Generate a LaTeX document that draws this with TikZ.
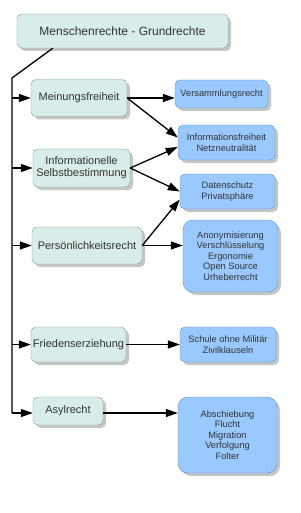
\documentclass[tikz,border=0pt]{standalone}
\usepackage{fontspec}
\setmainfont{Liberation Sans}
\usepackage{xcolor}
\usetikzlibrary{positioning,arrows.meta,shadows,calc}

\definecolor{rechtfill}{HTML}{D8ECE9}
\definecolor{rechtdraw}{HTML}{7F9E9A}
\definecolor{themafill}{HTML}{99C9FF}
\definecolor{themadraw}{HTML}{5F8FC8}
\definecolor{textgrau}{HTML}{333333}

\begin{document}
\begin{tikzpicture}[
    x=1pt, y=-1pt,
    font=\fontsize{11}{12}\selectfont, text=textgrau,
    recht/.style={draw=rechtdraw, fill=rechtfill, rounded corners=5pt, align=center,
                  inner sep=1pt, drop shadow={shadow xshift=3pt, shadow yshift=-3pt, fill=gray!90}},
    thema/.style={draw=themadraw, fill=themafill, rounded corners=5pt, align=center,
                  inner sep=1pt, font=\fontsize{9.3}{10.4}\selectfont,
                  drop shadow={shadow xshift=3pt, shadow yshift=-3pt, fill=gray!90}},
    arr/.style={-{Triangle[length=12pt, width=8pt]}, line width=1.3pt},
    trunk/.style={line width=1.3pt}
]
\useasboundingbox (0,0) rectangle (300,513);

% root
\node[recht, minimum width=211pt, minimum height=34pt, font=\fontsize{12}{14}\selectfont]
    (root) at (122.5,31) {Menschenrechte - Grundrechte};

% left column: rights
\node[recht, minimum width=96pt, minimum height=37pt] (mein) at (79,98) {Meinungsfreiheit};
\node[recht, minimum width=97pt, minimum height=38pt] (infos) at (81.5,168) {Informationelle\\Selbstbestimmung};
\node[recht, minimum width=110pt, minimum height=37pt] (pers) at (87,245.5) {Persönlichkeitsrecht};
\node[recht, minimum width=95pt, minimum height=35pt] (fried) at (78.5,344.5) {Friedenserziehung};
\node[recht, minimum width=70pt, minimum height=28pt] (asyl) at (68,411) {Asylrecht};

% right column: topics
\node[thema, minimum width=93pt, minimum height=28pt] (vers) at (221.5,94) {Versammlungsrecht};
\node[thema, minimum width=97pt, minimum height=35pt] (infof) at (226.5,142.5) {Informationsfreiheit\\Netzneutralität};
\node[thema, minimum width=95pt, minimum height=35pt] (daten) at (227.5,191.5) {Datenschutz\\Privatsphäre};
\node[thema, minimum width=95pt, minimum height=72pt, rounded corners=10pt] (anon) at (230.5,256)
    {Anonymisierung\\Verschlüsselung\\Ergonomie\\Open Source\\Urheberrecht};
\node[thema, minimum width=96pt, minimum height=35pt] (schule) at (228,344.5) {Schule ohne Militär\\Zivilklauseln};
\node[thema, minimum width=99pt, minimum height=76pt, rounded corners=10pt] (absch) at (227.5,435)
    {Abschiebung\\Flucht\\Migration\\Verfolgung\\Folter};

% trunk
\coordinate (knick) at (12,78);
\coordinate (ende) at (12,413);
\draw[trunk] ($(root.south west)+(36,0)$) -- (knick) -- (ende);

% branches
\draw[arr] (knick |- mein) -- (mein.west);
\draw[arr] (knick |- infos) -- (infos.west);
\draw[arr] (knick |- pers) -- (pers.west);
\draw[arr] (knick |- fried) -- (fried.west);
\draw[arr] (ende) -- (ende -| asyl.west);

% links
\draw[arr] (mein.east) -- (vers.west |- mein.east);
\draw[arr] (mein.east) -- ([yshift=5pt]infof.west);
\draw[arr] (infos.east) -- ([yshift=-4.5pt]infof.west);
\draw[arr] (infos.east) -- (daten.west);
\draw[arr] (pers.east) -- ([yshift=-8pt]daten.west);
\draw[arr] (pers.east) -- (pers.east -| anon.west);
\draw[arr] (fried.east) -- (schule.west |- fried.east);
\draw[arr] ([yshift=-2pt]asyl.east) -- ([yshift=-2pt]asyl.east -| absch.west);

\end{tikzpicture}
\end{document}
